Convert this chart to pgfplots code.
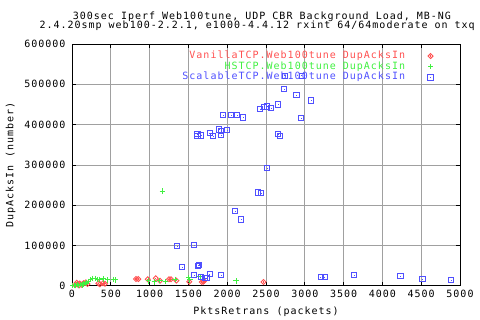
\documentclass[border=0pt]{standalone}
\usepackage{fontspec}
\setmainfont{DejaVu Sans Mono}[LetterSpace=10.0]
\usepackage{pgfplots}
\pgfplotsset{compat=1.18}
\definecolor{cr}{HTML}{FF5050}
\definecolor{cg}{HTML}{40F040}
\definecolor{cb}{HTML}{5050FF}
\definecolor{gridc}{HTML}{A0A0A0}
\pgfdeclareplotmark{sqdot}{%
  \pgfpathrectangle{\pgfpoint{-\pgfplotmarksize}{-\pgfplotmarksize}}{\pgfpoint{2\pgfplotmarksize}{2\pgfplotmarksize}}%
  \pgfusepathqstroke
  \pgfpathrectangle{\pgfpoint{-0.6bp}{-0.6bp}}{\pgfpoint{1.2bp}{1.2bp}}%
  \pgfusepathqfill}
\pgfdeclareplotmark{diadot}{%
  \pgfpathmoveto{\pgfpoint{0pt}{\pgfplotmarksize}}%
  \pgfpathlineto{\pgfpoint{\pgfplotmarksize}{0pt}}%
  \pgfpathlineto{\pgfpoint{0pt}{-\pgfplotmarksize}}%
  \pgfpathlineto{\pgfpoint{-\pgfplotmarksize}{0pt}}%
  \pgfpathclose
  \pgfusepathqstroke
  \pgfpathrectangle{\pgfpoint{-0.6bp}{-0.6bp}}{\pgfpoint{1.2bp}{1.2bp}}%
  \pgfusepathqfill}
\begin{document}
\begin{tikzpicture}[x=1bp,y=1bp]
\fontsize{10bp}{11bp}\selectfont
\begin{axis}[
  at={(72bp,34bp)}, anchor=south west,
  width=388bp, height=242bp, scale only axis,
  xmin=0, xmax=5000, ymin=0, ymax=600000,
  xtick={0,500,...,5000}, ytick={0,100000,...,600000},
  scaled ticks=false,
  /pgf/number format/fixed,
  /pgf/number format/set thousands separator={},
  /pgf/number format/assume math mode=true,
  grid=major, major grid style={gridc, line width=1bp},
  axis line style={line width=1bp, black},
  tick style={black, line width=1bp},
  major tick length=4bp, tick align=inside,
  tick label style={font=\fontsize{10bp}{11bp}\selectfont},
  yticklabel style={xshift=-3bp},
  xticklabel style={yshift=-1bp},
  legend cell align=right, legend plot pos=right,
  legend image code/.code={\path (0bp,0bp) (27bp,0bp); \draw[mark repeat=1,#1] plot coordinates {(23bp,0bp)};},
  legend style={at={(rel axis cs:0.944,0.98)}, anchor=north east, draw=none, fill=none,
    font=\fontsize{10bp}{11bp}\selectfont,
    nodes={inner ysep=0pt, text height=7.5bp, text depth=2.5bp}, row sep=0.7bp},
]
\addplot[only marks, mark=diadot, mark size=2.5bp, cr, line width=0.9bp] coordinates {
(40,2000) (70,4000) (100,6000) (120,3000) (150,7000) (180,9000) (200,5000)
(60,8000) (90,1000) (140,4500)
(340,6700) (360,4200) (400,6700) (425,5500)
(825,17300) (855,17300) (976,16600) (1079,19000) (1134,13000) (1250,16600) (1276,16600)
(1345,13500) (1512,10600) (1672,10000) (1693,10600) (1700,12400) (2467,10000)
};
\addlegendentry{\textcolor{cr}{VanillaTCP.Web100tune DupAcksIn}}
\addplot[only marks, mark=+, mark size=2.6bp, cg, line width=1bp] coordinates {
(10,1000) (30,2000) (50,500) (70,3000) (90,1500) (110,4000) (130,2500) (150,5000)
(170,6000) (190,9000) (210,12000) (240,16000) (270,19000) (300,19500) (330,17000)
(360,16500) (400,17500) (460,15000) (540,16500) (560,15000)
(984,12400) (1061,10000) (1134,13000) (1207,11700) (1328,16600) (1504,20600)
(1520,15000) (1650,23000) (1164,235500) (2114,12400)
};
\addlegendentry{\textcolor{cg}{HSTCP.Web100tune DupAcksIn}}
\addplot[only marks, mark=sqdot, mark size=2.6bp, cb, line width=1bp] coordinates {
(1357,98400) (1577,101000) (1422,46400) (1625,50300) (1640,52000) (1577,26500)
(1667,23000) (1715,19000) (1735,19500) (1775,29000) (1925,26500)
(1616,376000) (1616,371000) (1667,373000) (1775,378500) (1822,371000)
(1899,388000) (1925,383500) (1925,373500) (2002,386000)
(1950,423000) (2054,423000) (2131,423000) (2208,418000)
(2105,185000) (2182,165000) (2401,232000) (2440,230000)
(2427,438000) (2479,443000) (2517,445000) (2569,440500) (2517,292000)
(2659,450000) (2659,376000) (2685,371000) (2737,487600) (2892,473000)
(3085,460000) (2956,415700) (2746,521000) (2961,521000)
(3205,21500) (3257,21500) (3639,26500) (4232,24000) (4516,16600) (4889,14100)
};
\addlegendentry{\textcolor{cb}{ScalableTCP.Web100tune DupAcksIn}}
\end{axis}
\node[anchor=base west, inner sep=0pt] at (72.7bp,300.7bp) {300sec Iperf Web100tune, UDP CBR Background Load, MB-NG};
\node[anchor=base west, inner sep=0pt] at (39.3bp,291.7bp) {2.4.20smp web100-2.2.1, e1000-4.4.12 rxint 64/64moderate on txq};
\node[anchor=base, inner sep=0pt] at (266bp,5.5bp) {PktsRetrans (packets)};
\node[anchor=base, inner sep=0pt, rotate=90] at (13.3bp,155bp) {DupAcksIn (number)};
\pgfresetboundingbox
\useasboundingbox (0,0) rectangle (480bp,320bp);
\end{tikzpicture}
\end{document}
